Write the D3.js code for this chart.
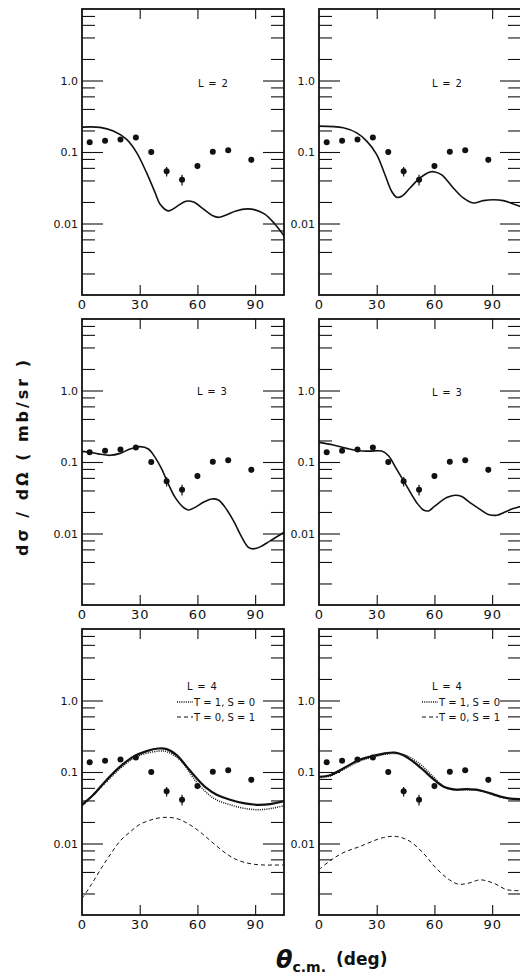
<!DOCTYPE html>
<html>
<head>
<meta charset="utf-8">
<script src="https://cdn.jsdelivr.net/npm/d3@7"></script>
<style>
body { margin: 0; background: #fff; }
svg { display: block; }
text { font-family: 'DejaVu Sans', sans-serif; fill: #111; }
</style>
</head>
<body>
<div id="chart"></div>
<script>
// measured points, same in every panel
var angles   = [4, 12, 20, 28, 36, 44, 52, 60, 68, 76, 88];
var sigmaExp = [0.137, 0.144, 0.150, 0.160, 0.0997, 0.0536, 0.041, 0.0636, 0.101, 0.106, 0.078];
var sigmaErr = [0.010, 0.010, 0.011, 0.012, 0.008, 0.008, 0.007, 0.006, 0.008, 0.008, 0.007];

// calculated curves  [theta, dsigma]
var l2Left = [[0,0.223],[9.4,0.221],[16.3,0.196],[23.2,0.150],[28.4,0.098],[33.6,0.051],[38,0.027],[40.6,0.0186],
  [44.9,0.015],[49.2,0.0172],[54,0.0205],[58,0.0200],[63,0.0160],[68,0.0128],[71,0.0122],[75,0.0132],[80,0.0150],
  [86,0.0160],[90,0.0155],[95,0.0135],[100,0.0100],[105.6,0.0064]];
var l2Right = [[0,0.23],[12.6,0.218],[19.6,0.185],[24.8,0.142],[30,0.092],[34.3,0.048],[37.8,0.028],[40.4,0.0233],
  [43,0.024],[47.3,0.0314],[52.5,0.0434],[57.7,0.0526],[60.3,0.0526],[63.8,0.048],[69.8,0.0314],[75,0.0228],
  [80.2,0.0194],[85.4,0.0209],[90.6,0.0215],[95.8,0.0209],[101,0.0188],[105,0.0172]];
var l3Left = [[0,0.141],[4.2,0.137],[8.5,0.130],[14.6,0.124],[19.8,0.132],[25,0.152],[30.2,0.164],[34.5,0.152],
  [38,0.116],[41.4,0.080],[44.9,0.049],[48.4,0.032],[52.7,0.0232],[55.3,0.0213],[58.8,0.0232],[63.1,0.0273],
  [67.5,0.0304],[70.9,0.0294],[74.4,0.0232],[78.7,0.0151],[83.1,0.0088],[86.5,0.0064],[89.1,0.0061],[92.6,0.0065],
  [97.8,0.0079],[103,0.0096],[105.6,0.0107]];
var l3Right = [[0,0.188],[7.4,0.173],[14.4,0.155],[20.5,0.144],[26.5,0.142],[32.6,0.142],[36.1,0.122],[40.4,0.079],
  [45.6,0.046],[50.8,0.027],[54.3,0.0213],[56.9,0.0207],[60.3,0.0243],[66.4,0.0318],[70.7,0.0343],[74.2,0.0329],
  [78.5,0.027],[83.7,0.0218],[88,0.0185],[92.4,0.0180],[96.7,0.020],[101,0.0223],[105,0.0240]];
var l4LeftFull = [[0,0.0348],[5.9,0.048],[12.8,0.0775],[19.8,0.119],[26.7,0.164],[33.6,0.196],[39.7,0.213],[44,0.209],
  [49.2,0.172],[54.4,0.119],[59.6,0.0817],[64.8,0.0594],[70,0.048],[77,0.0409],[83.9,0.0367],[90.9,0.0348],
  [97.8,0.0356],[105.6,0.0395]];
var l4LeftT1 = [[0,0.033],[12.8,0.0735],[19.8,0.112],[28.4,0.164],[39.7,0.196],[44,0.192],[51,0.147],[59.6,0.072],
  [68.3,0.0431],[77,0.0348],[85.7,0.0306],[92.6,0.0297],[99.5,0.0313],[105.6,0.034]];
var l4LeftT0 = [[0,0.0017],[5,0.0027],[10,0.0045],[15,0.0072],[20,0.011],[25,0.0145],[30,0.0185],[35,0.021],
  [40,0.0228],[45,0.0232],[50,0.022],[55,0.019],[60,0.0155],[65,0.012],[70,0.0092],[75,0.0072],[80,0.006],
  [85,0.0054],[90,0.0051],[95,0.005],[100,0.005],[105,0.005]];
var l4RightFull = [[0,0.0857],[5.7,0.090],[12.6,0.112],[20.5,0.146],[27.4,0.166],[33.5,0.181],[39.5,0.187],[43.9,0.172],
  [49.1,0.139],[54.3,0.106],[59.6,0.0787],[64.8,0.0622],[70,0.057],[76.9,0.0575],[83,0.0558],[89.1,0.0502],
  [94.3,0.0452],[98.6,0.0428],[105,0.0418]];
var l4RightT1 = [[0,0.083],[5.7,0.088],[12.6,0.108],[20.5,0.140],[27.4,0.160],[33.5,0.175],[39.5,0.182],[43.9,0.176],
  [49.1,0.150],[54.3,0.117],[59.6,0.085],[64.8,0.063],[70,0.056],[76.9,0.0565],[83,0.055],[89.1,0.0495],
  [94.3,0.0448],[98.6,0.0425],[105,0.0415]];
var l4RightT0 = [[0,0.0043],[6,0.0058],[12.5,0.0074],[21.3,0.0091],[33.4,0.0121],[40.4,0.0125],[47.3,0.0107],
  [55.1,0.0069],[59.4,0.0050],[66.4,0.0033],[72.4,0.0027],[78,0.0028],[83.7,0.0031],[90.6,0.0028],[97.6,0.00226],
  [105,0.00219]];

var xTicks = [0, 30, 60, 90];
var yMajor = [1, 0.1, 0.01];
var yMajorLabels = ["1.0", "0.1", "0.01"];
var yMinor = [0.002,0.004,0.006,0.008,0.02,0.04,0.06,0.08,0.2,0.4,0.6,0.8,2,4,6,8];

var W = 520, H = 978;
var colX = [82, 319], rowY = [9, 319, 629];
var pw = 202, ph = 286;

var panels = [
  {col:0,row:0,label:"L = 2",lx:116,ly:74,curves:[{d:l2Left,s:"solid"}]},
  {col:1,row:0,label:"L = 2",lx:113,ly:74,curves:[{d:l2Right,s:"solid"}]},
  {col:0,row:1,label:"L = 3",lx:115,ly:72,curves:[{d:l3Left,s:"solid"}]},
  {col:1,row:1,label:"L = 3",lx:113,ly:73,curves:[{d:l3Right,s:"solid"}]},
  {col:0,row:2,label:"L = 4",lx:105,ly:57,legend:true,
    curves:[{d:l4LeftFull,s:"solid",w:2.2},{d:l4LeftT1,s:"dot"},{d:l4LeftT0,s:"dash"}]},
  {col:1,row:2,label:"L = 4",lx:113,ly:57,legend:true,
    curves:[{d:l4RightFull,s:"solid",w:2.2},{d:l4RightT1,s:"dot"},{d:l4RightT0,s:"dash"}]}
];

var svg = d3.select("#chart").append("svg").attr("width", W).attr("height", H);
svg.append("rect").attr("width", W).attr("height", H).attr("fill", "#fff");

var x = d3.scaleLinear().domain([0, 105]).range([0, pw]);
var y = d3.scaleLog().domain([0.001, 10]).range([ph, 0]);

function styleLine(sel, s, w) {
  sel.attr("fill", "none").attr("stroke", "#111");
  if (s == "solid") sel.attr("stroke-width", w || 1.6);
  if (s == "dot") sel.attr("stroke-width", 1.5).attr("stroke-dasharray", "1,1.2");
  if (s == "dash") sel.attr("stroke-width", 1).attr("stroke-dasharray", "4,3");
}

var line = d3.line().x(function(d){ return x(d[0]); }).y(function(d){ return y(d[1]); })
  .curve(d3.curveCatmullRom.alpha(0.5));

panels.forEach(function(p, i) {
  var g = svg.append("g").attr("transform", "translate(" + colX[p.col] + "," + rowY[p.row] + ")");

  g.append("clipPath").attr("id", "clip" + i).append("rect").attr("width", pw).attr("height", ph);

  // inward ticks on all four sides
  g.append("g").call(d3.axisRight(y).tickValues(yMinor).tickSize(13).tickFormat(""));
  g.append("g").call(d3.axisRight(y).tickValues(yMajor).tickSize(21).tickFormat(""));
  g.append("g").attr("transform", "translate(" + pw + ",0)")
    .call(d3.axisLeft(y).tickValues(yMinor).tickSize(13).tickFormat(""));
  g.append("g").attr("transform", "translate(" + pw + ",0)")
    .call(d3.axisLeft(y).tickValues(yMajor).tickSize(21).tickFormat(""));
  g.append("g").call(d3.axisBottom(x).tickValues([30, 60, 90]).tickSize(10).tickFormat(""));
  g.append("g").attr("transform", "translate(0," + ph + ")")
    .call(d3.axisTop(x).tickValues([30, 60, 90]).tickSize(10).tickFormat(""));
  g.selectAll(".domain").remove();
  g.selectAll(".tick line").attr("stroke", "#111").attr("stroke-width", 1.1);

  // labels
  g.append("g").attr("transform", "translate(0," + ph + ")")
    .call(d3.axisBottom(x).tickValues(xTicks).tickSize(0).tickPadding(5))
    .call(function(a){ a.select(".domain").remove(); })
    .selectAll("text").attr("font-size", 13).attr("letter-spacing", 1).attr("fill", "#111")
    .attr("font-family", "'DejaVu Sans', sans-serif");
  g.append("g")
    .call(d3.axisLeft(y).tickValues(yMajor).tickSize(0).tickPadding(4)
      .tickFormat(function(d, j){ return yMajorLabels[j]; }))
    .call(function(a){ a.select(".domain").remove(); })
    .selectAll("text").attr("font-size", 11).attr("fill", "#111")
    .attr("font-family", "'DejaVu Sans', sans-serif");

  g.append("rect").attr("width", pw).attr("height", ph)
    .attr("fill", "none").attr("stroke", "#111").attr("stroke-width", 1.8);

  var cg = g.append("g").attr("clip-path", "url(#clip" + i + ")");
  p.curves.forEach(function(c) {
    cg.append("path").attr("d", line(c.d)).call(styleLine, c.s, c.w);
  });

  // data points with error bars
  var pts = g.append("g");
  angles.forEach(function(a, j) {
    pts.append("line")
      .attr("x1", x(a)).attr("x2", x(a))
      .attr("y1", y(sigmaExp[j] + sigmaErr[j])).attr("y2", y(sigmaExp[j] - sigmaErr[j]))
      .attr("stroke", "#111").attr("stroke-width", 1.2);
    pts.append("circle").attr("cx", x(a)).attr("cy", y(sigmaExp[j])).attr("r", 3).attr("fill", "#111");
  });

  g.append("text").attr("x", p.lx).attr("y", p.ly).attr("dy", "0.35em")
    .attr("font-size", 10).attr("letter-spacing", 0.8).text(p.label.replace(/ /g, "\u00a0"));

  if (p.legend) {
    var items = [{s:"dot", t:"T = 1, S = 0"}, {s:"dash", t:"T = 0, S = 1"}];
    items.forEach(function(it, k) {
      var ly = p.ly + 16 + k * 15;
      g.append("line").attr("x1", p.lx - 10).attr("x2", p.lx + 6).attr("y1", ly).attr("y2", ly)
        .call(styleLine, it.s);
      g.append("text").attr("x", p.lx + 7).attr("y", ly).attr("dy", "0.35em")
        .attr("font-size", 10).text(it.t);
    });
  }
});

// axis titles
svg.append("text")
  .attr("transform", "translate(28,458) rotate(-90)")
  .attr("text-anchor", "middle")
  .attr("font-size", 16).attr("font-weight", "bold")
  .attr("textLength", 196).attr("lengthAdjust", "spacing")
  .text("dσ / dΩ  ( mb/sr )");

var xt = svg.append("text").attr("x", 276).attr("y", 968);
xt.append("tspan").attr("font-size", 24).attr("font-style", "italic").attr("font-weight", "bold").text("θ");
xt.append("tspan").attr("font-size", 14).attr("font-weight", "bold").attr("dy", 4).text("c.m.");
xt.append("tspan").attr("font-size", 17).attr("font-weight", "bold").attr("dx", 10).attr("dy", -7).text("(deg)");
</script>
</body>
</html>
